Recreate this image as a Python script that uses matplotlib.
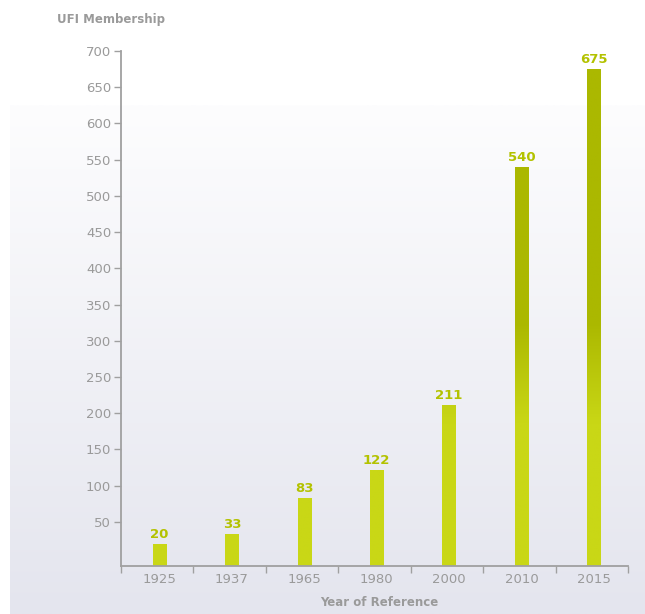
import numpy as np
import matplotlib
matplotlib.use("Agg")
import matplotlib.pyplot as plt
from matplotlib.colors import LinearSegmentedColormap

# --- data ---
years = ["1925", "1937", "1965", "1980", "2000", "2010", "2015"]
members = [20, 33, 83, 122, 211, 540, 675]
y_ticks = list(range(50, 701, 50))

grey = "#9a9a9a"
label_green = "#b3c200"
bar_cmap = LinearSegmentedColormap.from_list("ufi", ["#c9d716", "#abb800"])

fig = plt.figure(figsize=(6.45, 6.14), dpi=100)
fig.patch.set_facecolor("white")

# soft background panel, white at top fading to pale lavender grey
bg = fig.add_axes([10 / 645, 0, 1 - 10 / 645, (614 - 105) / 614], zorder=-5)
grad = np.linspace(0, 1, 256).reshape(-1, 1)
bg_cmap = LinearSegmentedColormap.from_list("bg", ["#e4e5ee", "#fdfdfe"])
bg.imshow(grad, aspect="auto", cmap=bg_cmap, origin="lower", extent=(0, 1, 0, 1))
bg.axis("off")

ax = fig.add_axes([121 / 645, 1 - 566 / 614, (628 - 121) / 645, (566 - 51) / 614])
ax.set_facecolor("none")

ymin, ymax = -11, 700
x = np.arange(len(years))
shift = 0.03  # bars sit a touch right of the category centre
bars = ax.bar(x + shift, np.array(members) - ymin, bottom=ymin, width=0.185,
              facecolor="none", edgecolor="none")

# vertical gradient on the bars, fixed to the plot height
col = np.linspace(ymin, ymax, 400).reshape(-1, 1)
for b, v in zip(bars, members):
    x0 = b.get_x()
    im = ax.imshow(col, aspect="auto", cmap=bar_cmap, vmin=185, vmax=325,
                   origin="lower", extent=(x0, x0 + b.get_width(), ymin, ymax),
                   zorder=2)
    im.set_clip_path(b)
    ax.text(b.get_x() + b.get_width() / 2, v + 4, str(v), ha="center", va="bottom",
            fontsize=9.5, fontweight="bold", color=label_green)

ax.set_xlim(-0.5, len(years) - 0.5)
ax.set_ylim(ymin, ymax)

ax.set_yticks(y_ticks)
ax.set_xticks(x + shift)
ax.set_xticklabels(years)
ax.set_xticks(np.arange(-0.5, len(years)), minor=True)
ax.tick_params(axis="x", which="major", length=0, pad=5, labelsize=9.5, labelcolor=grey)
ax.tick_params(axis="x", which="minor", length=5, width=1, color="#a0a0a0", direction="out")
ax.tick_params(axis="y", length=5, width=1, color="#a0a0a0", pad=2, labelsize=9.5,
               labelcolor=grey)

for s in ["top", "right"]:
    ax.spines[s].set_visible(False)
for s in ["left", "bottom"]:
    ax.spines[s].set_color("#a0a0a0")
    ax.spines[s].set_linewidth(1.3)

ax.set_xlabel("Year of Reference", fontsize=8.5, fontweight="bold", color=grey, labelpad=7)
ax.xaxis.set_label_coords(0.51, -0.058)
fig.text(57 / 645, 1 - 19 / 614, "UFI Membership", fontsize=8.5, fontweight="bold",
         color=grey, ha="left", va="center")

fig.savefig("out.png", dpi=100)
